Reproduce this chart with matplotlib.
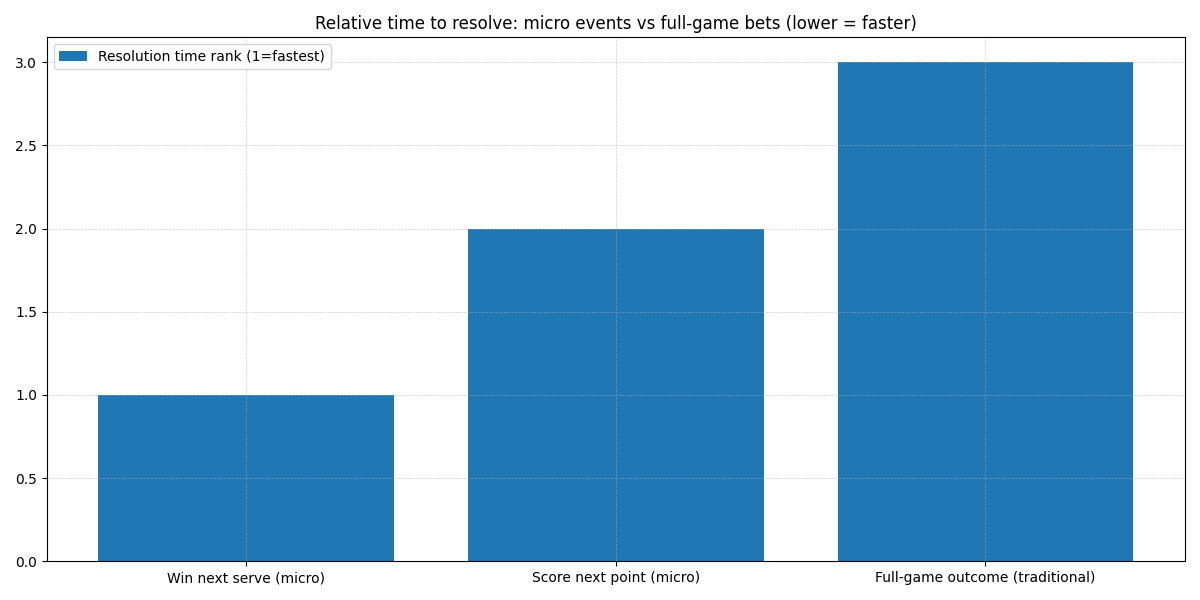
import matplotlib
matplotlib.use("Agg")
from matplotlib import pyplot as plt

categories = ["Win next serve (micro)", "Score next point (micro)", "Full-game outcome (traditional)"]
ranks = [1, 2, 3]

fig, ax = plt.subplots(figsize=(12, 6), dpi=100)
ax.bar(categories, ranks, color="#1f77b4", label="Resolution time rank (1=fastest)")
ax.set_title("Relative time to resolve: micro events vs full-game bets (lower = faster)")
ax.grid(True, linestyle="--", linewidth=0.5, alpha=0.6)
ax.legend(loc="upper left")
fig.tight_layout()
fig.savefig("out.png")
